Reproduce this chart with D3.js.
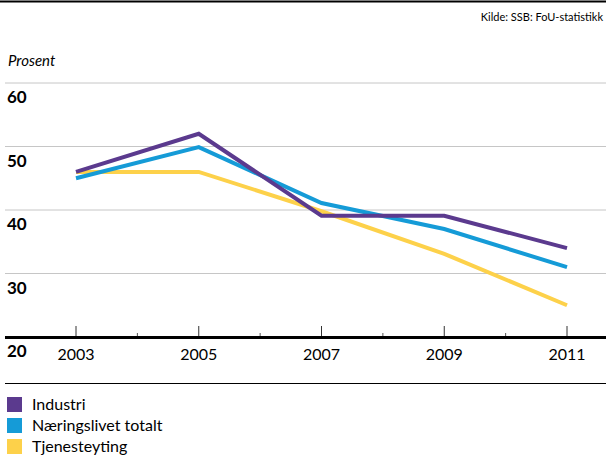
<!DOCTYPE html>
<html>
<head>
<meta charset="utf-8">
<script src="https://cdn.jsdelivr.net/npm/d3@7"></script>
<style>
  body { margin: 0; background: #fff; }
  svg { display: block; font-family: Lato, 'Open Sans', sans-serif; }
</style>
</head>
<body>
<svg id="chart" width="606" height="460"></svg>
<script>
var years = [2003, 2005, 2007, 2009, 2011]
var minorYears = [2004, 2006, 2008, 2010]
var yTicks = [20, 30, 40, 50, 60]
var seriesNames = ['Industri', 'Næringslivet totalt', 'Tjenesteyting']
var industri = [46.0, 52.0, 39.1, 39.1, 34.0]
var naeringslivet = [45.0, 49.9, 41.1, 37.0, 31.0]
var tjenesteyting = [46.0, 46.0, 39.8, 33.1, 25.0]
var colors = ['#5b3a8e', '#159bd7', '#fdd14a']

var svg = d3.select('#chart')

var x = d3.scaleLinear().domain([2003, 2011]).range([76, 567])
var y = d3.scaleLinear().domain([20, 60]).range([337, 83])

// top rule and source
svg.append('line')
  .attr('x1', 0).attr('x2', 606).attr('y1', 1.5).attr('y2', 1.5)
  .attr('stroke', '#000').attr('stroke-width', 2)

svg.append('text')
  .attr('x', 603).attr('y', 21)
  .attr('text-anchor', 'end')
  .attr('font-size', 11)
  .text('Kilde: SSB: FoU-statistikk')

svg.append('text')
  .attr('x', 8).attr('y', 66)
  .attr('font-size', 15)
  .attr('font-style', 'italic')
  .text('Prosent')

// gridlines
svg.append('g')
  .selectAll('line')
  .data(yTicks.filter((d) => d > 20))
  .join('line')
  .attr('x1', 5).attr('x2', 606)
  .attr('y1', (d) => y(d)).attr('y2', (d) => y(d))
  .attr('stroke', '#c6c6c6').attr('stroke-width', 1)

// y labels sit just under each gridline
svg.append('g')
  .selectAll('text')
  .data(yTicks)
  .join('text')
  .attr('x', 7)
  .attr('y', (d) => y(d) + 20)
  .attr('font-size', 17)
  .attr('font-weight', 'bold')
  .text((d) => d)

// x axis
var xAxis = svg.append('g')
xAxis.selectAll('line.major')
  .data(years)
  .join('line')
  .attr('class', 'major')
  .attr('x1', (d) => x(d)).attr('x2', (d) => x(d))
  .attr('y1', 326).attr('y2', 337)
  .attr('stroke', '#333').attr('stroke-width', 1)
xAxis.selectAll('line.minor')
  .data(minorYears)
  .join('line')
  .attr('class', 'minor')
  .attr('x1', (d) => x(d)).attr('x2', (d) => x(d))
  .attr('y1', 333).attr('y2', 337)
  .attr('stroke', '#555').attr('stroke-width', 1)
xAxis.append('line')
  .attr('x1', 5).attr('x2', 606).attr('y1', 337.5).attr('y2', 337.5)
  .attr('stroke', '#000').attr('stroke-width', 3)
xAxis.selectAll('text')
  .data(years)
  .join('text')
  .attr('x', (d) => x(d))
  .attr('y', 360)
  .attr('text-anchor', 'middle')
  .attr('font-size', 16)
  .text((d) => d)

// lines
var line = d3.line()
  .x((d, i) => x(years[i]))
  .y((d) => y(d))

var allSeries = [industri, naeringslivet, tjenesteyting]
var drawOrder = [2, 1, 0]
svg.append('g')
  .selectAll('path')
  .data(drawOrder)
  .join('path')
  .attr('d', (k) => line(allSeries[k]))
  .attr('fill', 'none')
  .attr('stroke', (k) => colors[k])
  .attr('stroke-width', 4)
  .attr('stroke-linejoin', 'miter')

// legend
svg.append('line')
  .attr('x1', 5).attr('x2', 606).attr('y1', 383.5).attr('y2', 383.5)
  .attr('stroke', '#000').attr('stroke-width', 1)

var legend = svg.append('g')
  .selectAll('g')
  .data(seriesNames)
  .join('g')
  .attr('transform', (d, i) => 'translate(7,' + (397 + i * 21) + ')')
legend.append('rect')
  .attr('width', 15).attr('height', 15)
  .attr('fill', (d, i) => colors[i])
legend.append('text')
  .attr('x', 25).attr('y', 13)
  .attr('font-size', 16)
  .text((d) => d)
</script>
</body>
</html>
